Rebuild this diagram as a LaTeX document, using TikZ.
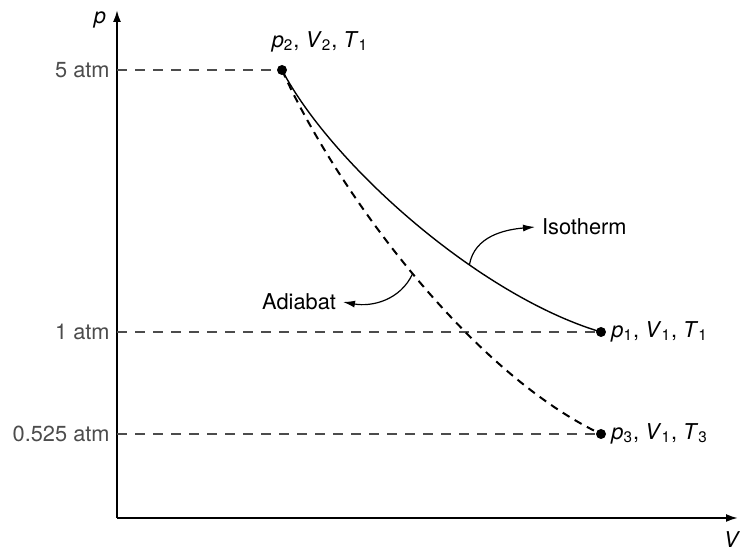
\documentclass[tikz,border=0pt]{standalone}
\usepackage{fontspec}
\setmainfont{TeX Gyre Heros}
\usetikzlibrary{arrows.meta,positioning}
\newcommand{\stvar}[2]{\textit{#1}\textsubscript{#2}}
\begin{document}
\begin{tikzpicture}[x=0.5pt, y=0.5pt, font=\fontsize{10.9}{13}\selectfont,
	axis/.style={line width=1pt, -{Latex[length=6pt,width=4pt]}},
	guide/.style={black!70, line width=0.7pt, dash pattern=on 5pt off 4pt},
	dot/.style={circle, fill, inner sep=0pt, minimum size=5pt},
	pointer/.style={line width=0.6pt, -{Latex[length=6pt,width=3.5pt]}}]
	\useasboundingbox (0,0) rectangle (740,550);
	\coordinate (O) at (117,32);
	\coordinate (ytop) at (117,540);
	\coordinate (xend) at (738,32);
	\draw [axis] (O) -- (ytop);
	\draw [axis] (O) -- (xend);
	\node (plbl) at (100,530) {\textit{p}};
	\node (vlbl) at (732,10) {\textit{V}};
	% states
	\node [dot] (p2) at (282,480) {};
	\node [dot] (p1) at (601,218) {};
	\node [dot] (p3) at (601,116) {};
	\draw [guide] (O |- p2) node [left] (five) {5 atm} -- (p2);
	\draw [guide] (O |- p1) node [left] (one) {1 atm} -- (p1);
	\draw [guide] (O |- p3) node [left] (half) {0.525 atm} -- (p3);
	\node (s2) at (320,508) {\stvar{p}{2}, \stvar{V}{2}, \stvar{T}{1}};
	\node [right=-1pt of p1] (s1) {\stvar{p}{1}, \stvar{V}{1}, \stvar{T}{1}};
	\node [right=-1pt of p3] (s3) {\stvar{p}{3}, \stvar{V}{1}, \stvar{T}{3}};
	% curves
	\draw [line width=0.7pt] (p2.center) .. controls (332,385) and (480,254) .. (p1.center) coordinate [pos=0.65] (isoPt);
	\draw [line width=1pt, dash pattern=on 4pt off 3pt] (p2.center) .. controls (336,360) and (470,178) .. (p3.center) coordinate [pos=0.5] (adiPt);
	\node [anchor=west] (iso) at (535,323) {Isotherm};
	\node [anchor=east] (adi) at (343,248) {Adiabat};
	\draw [pointer] (isoPt) to [out=80,in=185] (iso.west);
	\draw [pointer] (adiPt) to [out=-115,in=-10] (adi.east);
\end{tikzpicture}
\end{document}
